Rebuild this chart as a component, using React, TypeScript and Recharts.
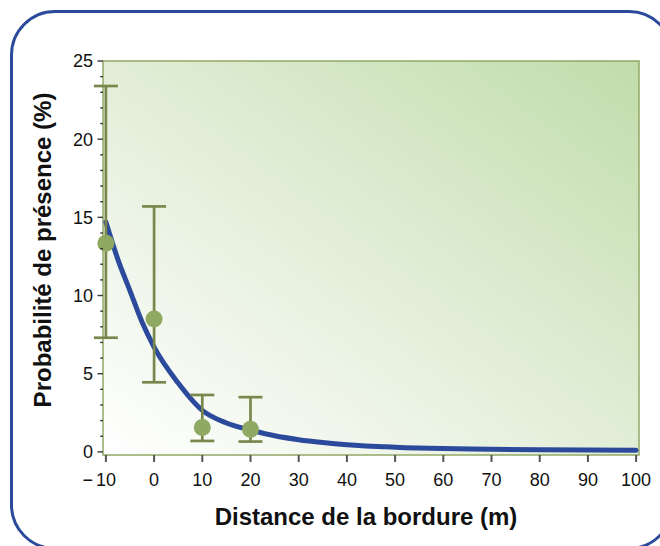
import React from 'react';
import { ComposedChart, Line, Scatter, ErrorBar, XAxis, YAxis, ReferenceArea, Label } from 'recharts';

// Observed points (distance in m, presence probability in %)
const distances = [-10, 0, 10, 20];
const presence = [13.35, 8.5, 1.56, 1.45];
const lowerCI = [7.3, 4.45, 0.7, 0.66];
const upperCI = [23.4, 15.7, 3.64, 3.5];

// Fitted curve
const curveX = [-10, -7.5, -5, -2.5, 0, 5, 10, 15, 20, 25, 30, 35, 40, 50, 60, 70, 80, 90, 100];
const curveY = [14.7, 12.3, 10.3, 8.3, 6.7, 4.4, 2.65, 1.85, 1.4, 1.03, 0.78, 0.6, 0.46, 0.3, 0.21, 0.17, 0.14, 0.12, 0.11];

const xTicks = [-10, 0, 10, 20, 30, 40, 50, 60, 70, 80, 90, 100];
const yTicks = [0, 1, 2, 3, 4, 5, 6, 7, 8, 9, 10, 11, 12, 13, 14, 15, 16, 17, 18, 19, 20, 21, 22, 23, 24, 25];

const xTitle = 'Distance de la bordure (m)';
const yTitle = 'Probabilité de présence (%)';

const FONT = '"Liberation Sans", Arial, Helvetica, sans-serif';

const pointData = distances.map((d, i) => ({
  x: d,
  y: presence[i],
  err: [presence[i] - lowerCI[i], upperCI[i] - presence[i]],
}));
const curveData = curveX.map((x, i) => ({ x, y: curveY[i] }));

const YTick = (props: any) => {
  const { x, y, payload } = props;
  const v = payload.value;
  const major = v % 5 === 0;
  return (
    <g>
      <line x1={x - (major ? 5.5 : 2.8)} x2={x} y1={y} y2={y} stroke="#3a3a3a" strokeWidth={1.4} />
      {major && (
        <text x={x - 10} y={y} dy="0.36em" textAnchor="end" fontSize={18} fill="#111" fontFamily={FONT}>
          {v}
        </text>
      )}
    </g>
  );
};

const XTick = (props: any) => {
  const { x, y, payload } = props;
  const v = payload.value;
  const neg = v < 0;
  return (
    <g>
      <line x1={x} x2={x} y1={y} y2={y + 7} stroke="#555" strokeWidth={2} />
      <text x={x} y={y + 30.5} textAnchor="middle" fontSize={18} fill="#111" fontFamily={FONT}>
        {Math.abs(v)}
      </text>
      {neg && (
        <text x={x - 13} y={y + 30.5} textAnchor="end" fontSize={18} fill="#111" fontFamily={FONT}>
          {'\u2212'}
        </text>
      )}
    </g>
  );
};

const XTitle = (props: any) => {
  const vb = props.viewBox || { x: 103, width: 536 };
  return (
    <text x={vb.x + vb.width / 2 - 5} y={525} textAnchor="middle" fontSize={24} fontWeight="bold" fill="#111" fontFamily={FONT}>
      {xTitle}
    </text>
  );
};

const YTitle = () => (
  <text transform="translate(51,250) rotate(-90)" x={0} y={0} textAnchor="middle" fontSize={24} fontWeight="bold" fill="#111" fontFamily={FONT}>
    {yTitle}
  </text>
);

const Dot = (props: any) => <circle cx={props.cx} cy={props.cy} r={8.5} fill="#8fa862" />;

export default function App() {
  return (
    <div style={{ position: 'fixed', left: 0, top: 0, width: 660, height: 546, overflow: 'hidden', background: '#fff' }}>
      <div
        style={{
          position: 'absolute',
          left: 10,
          top: 10,
          width: 664,
          height: 540,
          border: '3px solid #2c4a9c',
          borderRadius: 45,
          boxSizing: 'border-box',
        }}
      />
      <div style={{ position: 'absolute', left: 0, top: 0 }}>
        <ComposedChart width={660} height={546} margin={{ top: 61, right: 21, bottom: 31, left: 0 }}>
          <defs>
            <linearGradient id="plotBg" x1="0" y1="1" x2="1" y2="0">
              <stop offset="0%" stopColor="#ffffff" />
              <stop offset="50%" stopColor="#e2eed8" />
              <stop offset="100%" stopColor="#c1dcaa" />
            </linearGradient>
          </defs>
          <XAxis
            dataKey="x"
            type="number"
            domain={[-10.6, 100.6]}
            ticks={xTicks}
            interval={0}
            height={60}
            axisLine={false}
            tickLine={false}
            tickSize={0}
            tickMargin={0}
            tick={XTick}
          >
            <Label content={XTitle} />
          </XAxis>
          <YAxis
            type="number"
            domain={[-0.2, 25]}
            ticks={yTicks}
            interval={0}
            width={103}
            axisLine={false}
            tickLine={false}
            tickSize={0}
            tickMargin={0}
            tick={YTick}
          >
            <Label content={YTitle} />
          </YAxis>
          <ReferenceArea
            x1={-10.6}
            x2={100.6}
            y1={-0.2}
            y2={25}
            fill="url(#plotBg)"
            fillOpacity={1}
            stroke="#93a866"
            strokeWidth={1.5}
            ifOverflow="visible"
          />
          <Line
            data={curveData}
            dataKey="y"
            type="monotone"
            stroke="#2c4a9c"
            strokeWidth={5}
            strokeLinecap="round"
            dot={false}
            activeDot={false}
            isAnimationActive={false}
          />
          <Scatter data={pointData} dataKey="y" fill="#8fa862" shape={Dot} isAnimationActive={false}>
            <ErrorBar dataKey="err" direction="y" width={12} strokeWidth={2.7} stroke="#7a874c" isAnimationActive={false} />
          </Scatter>
        </ComposedChart>
      </div>
    </div>
  );
}
